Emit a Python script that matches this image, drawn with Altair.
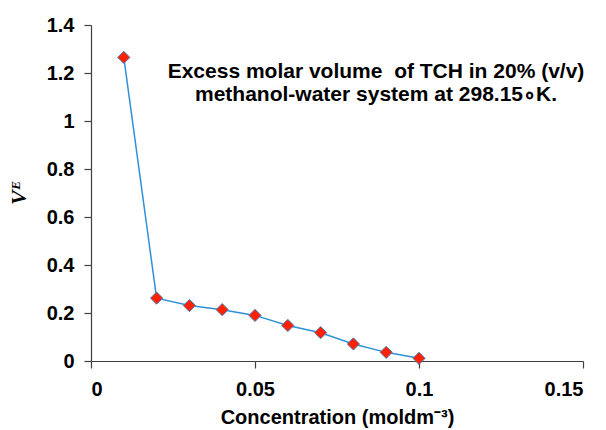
import altair as alt
import pandas as pd

conc = [0.01, 0.02, 0.03, 0.04, 0.05, 0.06, 0.07, 0.08, 0.09, 0.10]
ve = [1.265, 0.262, 0.231, 0.214, 0.190, 0.148, 0.118, 0.071, 0.036, 0.011]
note_lines = ["Excess molar volume\u00a0\u00a0of TCH in 20% (v/v)", "methanol-water system at 298.15\u2218K."]
x_ticks = [0, 0.05, 0.1, 0.15]
y_ticks = [0, 0.2, 0.4, 0.6, 0.8, 1.0, 1.2, 1.4]

df = pd.DataFrame({"conc": conc, "ve": ve})
notes = pd.DataFrame({"text": ["\n".join(note_lines)]})

x_enc = alt.X("conc:Q", scale=alt.Scale(domain=[0, 0.15], nice=False, zero=False),
              axis=alt.Axis(values=x_ticks, title="Concentration (moldm\u207b\u00b3)",
                            labelExpr="format(datum.value, '~g')"))
y_enc = alt.Y("ve:Q", scale=alt.Scale(domain=[0, 1.4], nice=False),
              axis=alt.Axis(values=y_ticks, title="V\u1d31",
                            labelExpr="format(datum.value, '~g')"))

line = alt.Chart(df).mark_line(color="#3090d8", strokeWidth=1.5).encode(x=x_enc, y=y_enc)
pts = alt.Chart(df).mark_point(shape="diamond", filled=True, fill="#ff2200", size=150,
                               stroke="#4a80c0", strokeWidth=1, opacity=1).encode(x=x_enc, y=y_enc)

txt = alt.Chart(notes).mark_text(font="Liberation Sans", fontWeight="bold", fontSize=21,
                                 color="black", align="center", baseline="middle",
                                 lineBreak="\n", lineHeight=23).encode(
    x=alt.value(285),
    y=alt.value(47),
    text="text:N")

chart = alt.layer(line, pts, txt).properties(
    width=492, height=336,
    autosize=alt.AutoSizeParams(type="none"),
    padding={"left": 91, "top": 25, "right": 23, "bottom": 69},
    background="white",
).configure_view(stroke=None).configure_axis(
    grid=False,
    domainColor="#404040", domainWidth=1.2,
    tickColor="#404040", tickSize=7, tickWidth=1.2,
    labelFont="Liberation Sans", labelFontWeight="bold", labelFontSize=20, labelColor="black",
).configure_axisX(
    titleFont="Liberation Sans", titleFontWeight="bold", titleFontSize=20, titleColor="black",
    titlePadding=8, labelPadding=11,
).configure_axisY(
    titleFont="Liberation Serif", titleFontWeight="bold", titleFontStyle="italic",
    titleFontSize=22, titleColor="black", titlePadding=16, labelPadding=10,
)

chart.save("out.html", embed_options={"renderer": "svg", "actions": False})
